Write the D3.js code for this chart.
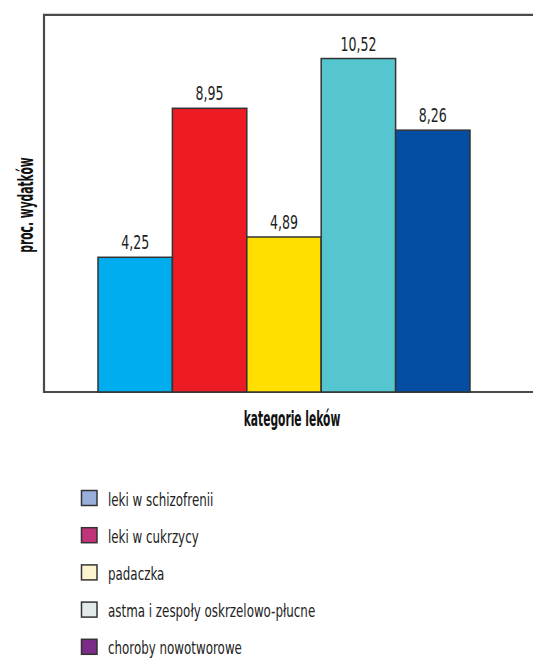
<!DOCTYPE html>
<html>
<head>
<meta charset="utf-8">
<script src="https://cdn.jsdelivr.net/npm/d3@7"></script>
<style>
body{margin:0;background:#fff;}
text{font-family:"DejaVu Sans",sans-serif;}
</style>
</head>
<body>
<script>
const svg_width = 533, svg_height = 660;
var categories = ["leki w schizofrenii","leki w cukrzycy","padaczka","astma i zespoły oskrzelowo-płucne","choroby nowotworowe"];
var values = [4.25,8.95,4.89,10.52,8.26];
var valueLabels = ["4,25","8,95","4,89","10,52","8,26"];
var barColors = ["#00adef","#ed1c24","#ffde00","#55c5d0","#034ea2"];
var legendColors = ["#9aaedb","#c0357a","#fcf3d0","#e3eaec","#7a2c88"];

var svg = d3.select("body").append("svg")
  .attr("width",svg_width)
  .attr("height",svg_height);

var left = 44, top_y = 14.8, bottom = 392, right = 540;
var y = d3.scaleLinear().domain([0,12]).range([bottom,11.6]);
var x = d3.scaleBand().domain(categories).range([98,470]).padding(0);

// frame (open on the right)
svg.append("path")
  .attr("d","M"+right+","+top_y+"H"+left+"V"+bottom+"H"+right)
  .attr("fill","none")
  .attr("stroke","#4a4a4a")
  .attr("stroke-width",2.2);

// bars
svg.append("g").selectAll("rect")
  .data(values)
  .enter()
  .append("rect")
  .attr("x",function(d,i){return x(categories[i])})
  .attr("y",function(d){return y(d)})
  .attr("width",x.bandwidth())
  .attr("height",function(d){return bottom - y(d)})
  .attr("fill",function(d,i){return barColors[i]})
  .attr("stroke","#333")
  .attr("stroke-width",1.5);

// value labels (condensed look)
svg.append("g").selectAll("text")
  .data(values)
  .enter()
  .append("text")
  .attr("transform",function(d,i){return "translate("+(x(categories[i]) + x.bandwidth()/2)+","+(y(d) - 8)+") scale(0.63,1)"})
  .attr("text-anchor","middle")
  .attr("font-size",20)
  .attr("fill","#222")
  .text(function(d,i){return valueLabels[i]});

// axis titles
svg.append("text")
  .attr("transform","translate(292,426) scale(0.51,1)")
  .attr("text-anchor","middle")
  .attr("font-size",21)
  .attr("font-weight","bold")
  .attr("fill","#111")
  .text("kategorie leków");

svg.append("text")
  .attr("transform","translate(33,205) rotate(-90) scale(0.51,1)")
  .attr("text-anchor","middle")
  .attr("font-size",21)
  .attr("font-weight","bold")
  .attr("fill","#111")
  .text("proc. wydatków");

// legend
var legend = svg.append("g").selectAll("g")
  .data(categories)
  .enter()
  .append("g")
  .attr("transform",function(d,i){return "translate(81.5,"+(490.5 + i*37.2)+")"});
legend.append("rect")
  .attr("width",15.5)
  .attr("height",15)
  .attr("fill",function(d,i){return legendColors[i]})
  .attr("stroke","#333")
  .attr("stroke-width",1.5);
legend.append("text")
  .attr("transform","translate(26.5,15) scale(0.66,1)")
  .attr("font-size",18)
  .attr("fill","#222")
  .text(function(d){return d});
</script>
</body>
</html>
